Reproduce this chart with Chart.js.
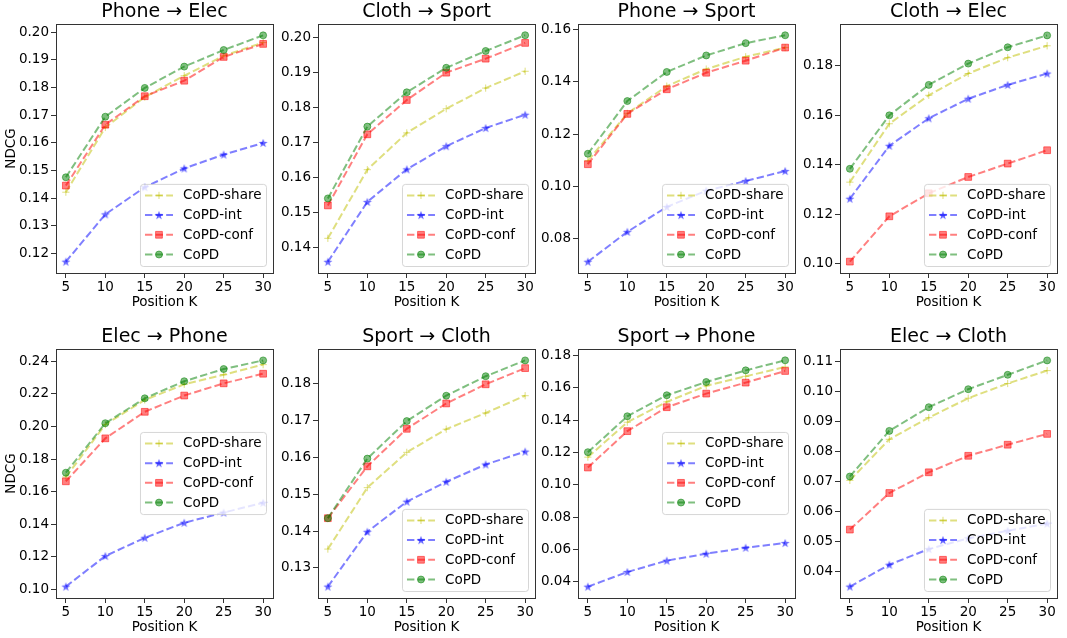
<!DOCTYPE html>
<html>
<head>
<meta charset="utf-8">
<script src="https://cdn.jsdelivr.net/npm/chart.js@4.4.0/dist/chart.umd.min.js"></script>
<style>
  html, body { margin: 0; padding: 0; background: #fff; overflow: hidden; width: 1067px; height: 638px; }
  .panel { position: absolute; }
</style>
</head>
<body>
<script>
// x positions
const positionK = [5, 10, 15, 20, 25, 30];
const seriesNames = ['CoPD-share', 'CoPD-int', 'CoPD-conf', 'CoPD'];
const panelTitles = ['Phone \u2192 Elec', 'Cloth \u2192 Sport', 'Phone \u2192 Sport', 'Cloth \u2192 Elec',
                     'Elec \u2192 Phone', 'Sport \u2192 Cloth', 'Sport \u2192 Phone', 'Elec \u2192 Cloth'];

// one row per panel, same order as panelTitles
const copdShare = [
  [0.1422, 0.1656, 0.1766, 0.1843, 0.1915, 0.1963],
  [0.1427, 0.1623, 0.1728, 0.1797, 0.1856, 0.1904],
  [0.1098, 0.1279, 0.1383, 0.1448, 0.1495, 0.1530],
  [0.1329, 0.1565, 0.1680, 0.1768, 0.1832, 0.1880],
  [0.1690, 0.2012, 0.2163, 0.2259, 0.2318, 0.2380],
  [0.1351, 0.1518, 0.1614, 0.1677, 0.1721, 0.1768],
  [0.1172, 0.1388, 0.1514, 0.1613, 0.1672, 0.1730],
  [0.0704, 0.0841, 0.0913, 0.0978, 0.1027, 0.1070]
];
const copdInt = [
  [0.1171, 0.1342, 0.1440, 0.1508, 0.1558, 0.1600],
  [0.1360, 0.1531, 0.1624, 0.1690, 0.1742, 0.1780],
  [0.0713, 0.0827, 0.0922, 0.0984, 0.1021, 0.1059],
  [0.1262, 0.1476, 0.1587, 0.1666, 0.1722, 0.1768],
  [0.1016, 0.1204, 0.1316, 0.1408, 0.1471, 0.1531],
  [0.1249, 0.1398, 0.1480, 0.1534, 0.1581, 0.1616],
  [0.0371, 0.0462, 0.0532, 0.0575, 0.0612, 0.0641],
  [0.0350, 0.0423, 0.0475, 0.0511, 0.0536, 0.0560]
];
const copdConf = [
  [0.1446, 0.1666, 0.1769, 0.1825, 0.1911, 0.1958],
  [0.1521, 0.1724, 0.1822, 0.1900, 0.1940, 0.1985],
  [0.1085, 0.1277, 0.1371, 0.1434, 0.1480, 0.1530],
  [0.1008, 0.1191, 0.1284, 0.1350, 0.1404, 0.1458],
  [0.1663, 0.1927, 0.2090, 0.2190, 0.2265, 0.2324],
  [0.1435, 0.1576, 0.1678, 0.1747, 0.1799, 0.1843],
  [0.1108, 0.1333, 0.1481, 0.1565, 0.1633, 0.1705],
  [0.0540, 0.0662, 0.0731, 0.0786, 0.0823, 0.0859]
];
const copdFull = [
  [0.1476, 0.1695, 0.1799, 0.1876, 0.1936, 0.1989],
  [0.1541, 0.1746, 0.1844, 0.1914, 0.1962, 0.2007],
  [0.1125, 0.1326, 0.1437, 0.1500, 0.1547, 0.1577],
  [0.1383, 0.1599, 0.1722, 0.1808, 0.1874, 0.1922],
  [0.1716, 0.2020, 0.2173, 0.2278, 0.2353, 0.2406],
  [0.1435, 0.1597, 0.1699, 0.1768, 0.1821, 0.1864],
  [0.1203, 0.1425, 0.1555, 0.1637, 0.1709, 0.1771],
  [0.0717, 0.0869, 0.0948, 0.1008, 0.1056, 0.1104]
];

const yTicks = [
  [0.12, 0.13, 0.14, 0.15, 0.16, 0.17, 0.18, 0.19, 0.20],
  [0.14, 0.15, 0.16, 0.17, 0.18, 0.19, 0.20],
  [0.08, 0.10, 0.12, 0.14, 0.16],
  [0.10, 0.12, 0.14, 0.16, 0.18],
  [0.10, 0.12, 0.14, 0.16, 0.18, 0.20, 0.22, 0.24],
  [0.13, 0.14, 0.15, 0.16, 0.17, 0.18],
  [0.04, 0.06, 0.08, 0.10, 0.12, 0.14, 0.16, 0.18],
  [0.04, 0.05, 0.06, 0.07, 0.08, 0.09, 0.10, 0.11]
];
const yLimits = [
  [0.1130, 0.2030], [0.1328, 0.2039], [0.0670, 0.1620], [0.0962, 0.1968],
  [0.0946, 0.2476], [0.1218, 0.1895], [0.0301, 0.1841], [0.0312, 0.1142]
];
const legendSpot = ['lower right', 'lower right', 'lower right', 'lower right',
                    'center right', 'lower right', 'center right', 'lower right'];

const colors = ['rgba(191,191,0,0.5)', 'rgba(0,0,255,0.5)', 'rgba(255,0,0,0.5)', 'rgba(0,128,0,0.5)'];

Chart.defaults.font.family = '"DejaVu Sans", sans-serif';
Chart.defaults.color = '#000';

function starImage(color) {
  const c = document.createElement('canvas');
  c.width = 12; c.height = 12;
  const g = c.getContext('2d');
  g.beginPath();
  for (let k = 0; k < 10; k++) {
    const r = k % 2 ? 1.9 : 4.7;
    const a = -Math.PI / 2 + k * Math.PI / 5;
    g.lineTo(6 + r * Math.cos(a), 6.4 + r * Math.sin(a));
  }
  g.closePath();
  g.fillStyle = color;
  g.fill();
  return c;
}
const starPt = starImage('rgba(0,0,255,0.6)');

const markers = [
  { pointStyle: 'cross', radius: 3.6 },
  { pointStyle: starPt, radius: 4 },
  { pointStyle: 'rect', radius: 4.8 },
  { pointStyle: 'circle', radius: 3.5 }
];

// box around plot area
const frame = {
  id: 'frame',
  afterDraw(chart) {
    const a = chart.chartArea, ctx = chart.ctx;
    ctx.save();
    ctx.strokeStyle = '#333';
    ctx.lineWidth = 1;
    ctx.strokeRect(Math.round(a.left) + 0.5, Math.round(a.top) + 0.5,
                   Math.round(a.right - a.left), Math.round(a.bottom - a.top));
    ctx.restore();
  }
};

// matplotlib-like legend inside the axes
const boxLegend = {
  id: 'boxLegend',
  afterDraw(chart, args, opts) {
    const ctx = chart.ctx, a = chart.chartArea;
    const ds = chart.data.datasets.slice().sort((p, q) => p.legendIdx - q.legendIdx);
    ctx.save();
    ctx.font = '13.5px "DejaVu Sans", sans-serif';
    const tw = Math.max(...ds.map(d => ctx.measureText(d.label).width));
    const rowH = 19.7;
    const w = 4.5 + 28 + 10 + tw + 5;
    const h = 11 + rowH * (ds.length - 1) + 12;
    const x = a.right - 6.5 - w;
    const y = opts.where === 'center right' ? (a.top + a.bottom) / 2 - h / 2 : a.bottom - 6.5 - h;
    ctx.beginPath();
    ctx.roundRect(x, y, w, h, 3);
    ctx.fillStyle = 'rgba(255,255,255,0.8)';
    ctx.fill();
    ctx.strokeStyle = 'rgba(204,204,204,0.8)';
    ctx.lineWidth = 1;
    ctx.stroke();
    ds.forEach((d, i) => {
      const cy = y + 11 + i * rowH;
      ctx.setLineDash(d.borderDash);
      ctx.strokeStyle = d.borderColor;
      ctx.lineWidth = d.borderWidth;
      ctx.beginPath();
      ctx.moveTo(x + 4.5, cy);
      ctx.lineTo(x + 32.5, cy);
      ctx.stroke();
      ctx.setLineDash([]);
      ctx.fillStyle = d.pointBackgroundColor;
      ctx.strokeStyle = d.pointBorderColor;
      ctx.lineWidth = 1;
      Chart.helpers.drawPoint(ctx, { pointStyle: d.pointStyle, radius: d.pointRadius, rotation: 0, borderWidth: 1 }, x + 18.5, cy);
      ctx.fillStyle = '#000';
      ctx.textBaseline = 'middle';
      ctx.fillText(d.label, x + 42.5, cy + 0.5);
    });
    ctx.restore();
  }
};

const plotLefts = [56, 318, 578, 840];
const plotTops = [24, 349];
const plotW = 217, plotH = 249;
const allSeries = [copdShare, copdInt, copdConf, copdFull];

panelTitles.forEach((title, i) => {
  const col = i % 4, row = Math.floor(i / 4);
  const div = document.createElement('div');
  div.className = 'panel';
  div.style.left = (plotLefts[col] - 56) + 'px';
  div.style.top = (plotTops[row] - 24) + 'px';
  div.style.width = (56 + plotW + 8) + 'px';
  div.style.height = (24 + plotH + 48) + 'px';
  const cv = document.createElement('canvas');
  div.appendChild(cv);
  document.body.appendChild(div);

  const datasets = allSeries.map((s, k) => ({
    label: seriesNames[k],
    data: s[i].map((v, j) => ({ x: positionK[j], y: v })),
    borderColor: colors[k],
    borderWidth: 2,
    borderDash: [7.4, 3.2],
    pointStyle: markers[k].pointStyle,
    pointRadius: markers[k].radius,
    pointBackgroundColor: colors[k],
    pointBorderColor: colors[k],
    pointBorderWidth: 1,
    tension: 0,
    fill: false,
    order: 3 - k,
    legendIdx: k
  }));

  new Chart(cv, {
    type: 'line',
    data: { datasets: datasets },
    options: {
      responsive: true,
      maintainAspectRatio: false,
      animation: false,
      layout: { padding: { left: 0, right: 8, top: 0, bottom: 0 } },
      plugins: {
        legend: { display: false },
        tooltip: { enabled: false },
        title: {
          display: true, text: title, fullSize: false,
          font: { size: 19, weight: 'normal' },
          padding: { top: 0.6, bottom: 0.6 }
        },
        boxLegend: { where: legendSpot[i] }
      },
      scales: {
        x: {
          type: 'linear', min: 3.75, max: 31.25,
          afterBuildTicks: s => { s.ticks = positionK.map(v => ({ value: v })); },
          ticks: { font: { size: 13.5 }, padding: 1, maxRotation: 0, autoSkip: false },
          grid: { display: true, drawOnChartArea: false, drawTicks: true, tickLength: 5, color: '#333' },
          border: { display: false },
          title: { display: true, text: 'Position K', font: { size: 13.5 }, padding: { top: 0, bottom: 10 } },
          afterFit: s => { s.height = 48; }
        },
        y: {
          min: yLimits[i][0], max: yLimits[i][1],
          afterBuildTicks: s => { s.ticks = yTicks[i].map(v => ({ value: v })); },
          ticks: { font: { size: 13.5 }, padding: 2, callback: v => Number(v).toFixed(2) },
          grid: { display: true, drawOnChartArea: false, drawTicks: true, tickLength: 5, color: '#333' },
          border: { display: false },
          title: { display: col === 0, text: 'NDCG', font: { size: 13.5 }, padding: { top: 3, bottom: 0 } },
          afterFit: s => { s.width = 56; }
        }
      }
    },
    plugins: [frame, boxLegend]
  });
});
</script>
</body>
</html>
